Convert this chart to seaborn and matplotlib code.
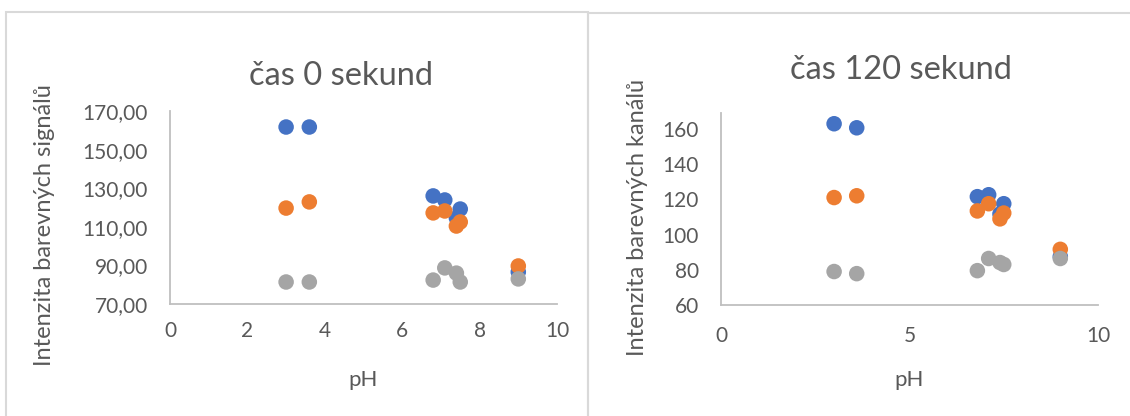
import pandas as pd
import seaborn as sns
import matplotlib.pyplot as plt
from matplotlib.patches import Rectangle

# pH hodnoty (stejné pro obě měření)
ph = [3.0, 3.6, 6.8, 7.1, 7.4, 7.5, 9.0]

# čas 0 sekund
blue_0 = [161.7, 161.7, 126.0, 123.9, 114.6, 119.2, 86.6]
orange_0 = [119.7, 122.9, 117.2, 118.2, 110.4, 112.5, 89.7]
gray_0 = [81.4, 81.4, 82.4, 88.7, 86.0, 81.4, 83.0]

# čas 120 sekund
blue_120 = [162.9, 160.6, 121.5, 122.6, 111.7, 117.5, 87.5]
orange_120 = [121.0, 122.0, 113.4, 117.5, 108.9, 112.2, 91.6]
gray_120 = [79.0, 77.8, 79.5, 86.4, 84.1, 83.0, 86.4]

yticks_0 = [70, 90, 110, 130, 150, 170]
ylabels_0 = ["70,00", "90,00", "110,00", "130,00", "150,00", "170,00"]
xticks_0 = [0, 2, 4, 6, 8, 10]
yticks_120 = [60, 80, 100, 120, 140, 160]
xticks_120 = [0, 5, 10]

palette = {"R": "#4472C4", "G": "#ED7D31", "B": "#A5A5A5"}


def make_df(b, o, g):
    rows = []
    for name, vals in (("R", b), ("G", o), ("B", g)):
        for x, y in zip(ph, vals):
            rows.append({"pH": x, "val": y, "s": name})
    return pd.DataFrame(rows)


sns.set_theme(style="white")
plt.rcParams['font.family'] = ['Lato', 'DejaVu Sans']

fig = plt.figure(figsize=(11.3, 4.16), dpi=100)
W, H = 1130, 416


def box(x0, x1, y0, y1):
    # pixel box -> figure fraction
    return [x0 / W, 1 - y1 / H, (x1 - x0) / W, (y1 - y0) / H]


ax1 = fig.add_axes(box(170, 557, 111, 304))
ax2 = fig.add_axes(box(721, 1098, 113, 305))

for ax, df in ((ax1, make_df(blue_0, orange_0, gray_0)),
               (ax2, make_df(blue_120, orange_120, gray_120))):
    sns.scatterplot(data=df, x="pH", y="val", hue="s", palette=palette,
                    s=125, edgecolor="none", legend=False, ax=ax)
    sns.despine(ax=ax)
    for sp in ("left", "bottom"):
        ax.spines[sp].set_color("#bfbfbf")
        ax.spines[sp].set_linewidth(1.3)
    ax.tick_params(length=0, labelsize=15, labelcolor="#595959")
    ax.set_xlim(0, 10)
    ax.set_xlabel("pH", fontsize=16, color="#595959")
    ax.set_ylabel("")

ax1.set_ylim(70, 170)
ax1.set_yticks(yticks_0)
ax1.set_yticklabels(ylabels_0)
ax1.set_xticks(xticks_0)
ax1.tick_params(axis="y", pad=16)
ax1.tick_params(axis="x", pad=12)
ax1.xaxis.set_label_coords(0.5, -0.34)

ax2.set_ylim(60, 169)
ax2.set_yticks(yticks_120)
ax2.set_xticks(xticks_120)
ax2.tick_params(axis="y", pad=16)
ax2.tick_params(axis="x", pad=15)
ax2.xaxis.set_label_coords(0.5, -0.34)

fig.text(341 / W, 1 - 76 / H, "čas 0 sekund", fontsize=23.5, color="#595959",
         ha="center", va="center")
fig.text(901 / W, 1 - 70 / H, "čas 120 sekund", fontsize=23.5, color="#595959",
         ha="center", va="center")
fig.text(45 / W, 1 - 225 / H, "Intenzita barevných signálů", fontsize=17,
         color="#595959", rotation=90, ha="center", va="center")
fig.text(638 / W, 1 - 217 / H, "Intenzita barevných kanálů", fontsize=17,
         color="#595959", rotation=90, ha="center", va="center")

# rámečky grafů
fig.add_artist(Rectangle((6 / W, -0.1), (588 - 6) / W, 1.1 - 12 / H,
                         transform=fig.transFigure, fill=False,
                         edgecolor="#d9d9d9", lw=1.5))
fig.add_artist(Rectangle((588 / W, -0.1), 0.6, 1.1 - 13 / H,
                         transform=fig.transFigure, fill=False,
                         edgecolor="#d9d9d9", lw=1.5))

fig.savefig("out.png", dpi=100)
